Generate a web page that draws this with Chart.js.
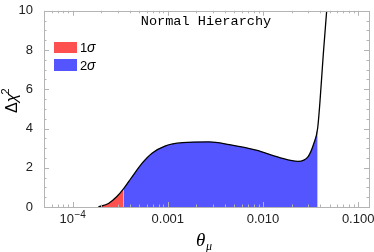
<!DOCTYPE html>
<html>
<head>
<meta charset="utf-8">
<script src="https://cdn.jsdelivr.net/npm/chart.js@4.4.0/dist/chart.umd.min.js"></script>
<style>
html,body{margin:0;padding:0;background:#fff;}
</style>
</head>
<body>
<canvas id="grafico" width="374" height="252"></canvas>
<script>
// valores
const thetaMu = [1.86e-4, 2.38e-4, 2.9e-4, 3.42e-4, 4.19e-4, 5.35e-4, 6.82e-4, 9.46e-4, 1.42e-3, 2.72e-3,
  4.43e-3, 8.47e-3, 0.015, 0.0233, 0.0298, 0.034, 0.0375, 0.0396, 0.043, 0.0467];
const deltaChi2 = [0, 0.18, 0.52, 0.92, 1.52, 2.22, 2.74, 3.12, 3.28, 3.32,
  3.18, 2.9, 2.52, 2.33, 2.57, 3.2, 4.0, 5.3, 7.77, 10];
const limite1s = 3.42e-4;
const limite2s = 0.0375;
const xTicks = [1e-4, 1e-3, 1e-2, 1e-1];
const xTickLabels = ['10', '0.001', '0.010', '0.100'];
const xTickExp = ['−4', '', '', ''];
const yTicks = [0, 2, 4, 6, 8, 10];

const puntos = thetaMu.map((x, i) => ({ x: x, y: deltaChi2[i] }));
const rojo = puntos.filter(p => p.x <= limite1s);
const azul = puntos.filter(p => p.x >= limite1s && p.x <= limite2s);

const gris = '#b4b4b4';

// marco, ticks hacia dentro, titulo y leyenda
const marco = {
  id: 'marco',
  afterDraw(chart) {
    const ctx = chart.ctx;
    const a = chart.chartArea;
    const sx = chart.scales.x, sy = chart.scales.y;
    ctx.save();
    ctx.strokeStyle = gris;
    ctx.lineWidth = 1;
    ctx.strokeRect(Math.round(a.left) + 0.5, Math.round(a.top) + 0.5,
      Math.round(a.right - a.left), Math.round(a.bottom - a.top));
    ctx.beginPath();
    // ticks x (log)
    for (let d = -5; d <= -1; d++) {
      for (let m = 1; m <= 9; m++) {
        const v = m * Math.pow(10, d);
        if (v < sx.min || v > sx.max) continue;
        const px = Math.round(sx.getPixelForValue(v)) + 0.5;
        const len = m === 1 ? 5 : 2.5;
        ctx.moveTo(px, a.bottom); ctx.lineTo(px, a.bottom - len);
        ctx.moveTo(px, a.top); ctx.lineTo(px, a.top + len);
      }
    }
    // ticks y
    for (let v = 0; v <= 10; v += 0.5) {
      const py = Math.round(sy.getPixelForValue(v)) + 0.5;
      const len = v % 2 === 0 ? 5 : 2.5;
      ctx.moveTo(a.left, py); ctx.lineTo(a.left + len, py);
      ctx.moveTo(a.right, py); ctx.lineTo(a.right - len, py);
    }
    ctx.stroke();

    // etiquetas eje x
    ctx.fillStyle = '#222';
    ctx.textBaseline = 'alphabetic';
    xTicks.forEach((v, i) => {
      const px = sx.getPixelForValue(v);
      ctx.font = '13px "Liberation Sans"';
      const w1 = ctx.measureText(xTickLabels[i]).width;
      ctx.font = '10px "Liberation Sans"';
      const w2 = xTickExp[i] ? ctx.measureText(xTickExp[i]).width + 0.5 : 0;
      const x0 = px - (w1 + w2) / 2;
      ctx.textAlign = 'left';
      ctx.font = '13px "Liberation Sans"';
      ctx.fillText(xTickLabels[i], x0, 223);
      if (w2) {
        ctx.font = '10px "Liberation Sans"';
        ctx.fillText(xTickExp[i], x0 + w1 + 0.5, 218);
      }
    });

    // titulo
    ctx.fillStyle = '#000';
    ctx.font = '13.6px "Liberation Mono"';
    ctx.textAlign = 'center';
    ctx.fillText('Normal Hierarchy', 206, 25);

    // leyenda
    ctx.fillStyle = '#ff5050';
    ctx.fillRect(54, 42, 23, 11);
    ctx.fillStyle = '#5555ff';
    ctx.fillRect(54, 59, 23, 12);
    ctx.fillStyle = '#000';
    ctx.textAlign = 'left';
    ctx.font = '13px "Liberation Sans"';
    ctx.fillText('1', 80, 52);
    ctx.fillText('2', 80, 70);
    ctx.font = 'italic 14px "Liberation Sans"';
    ctx.fillText('σ', 87, 52);
    ctx.fillText('σ', 87, 70);

    // titulo eje x
    ctx.font = 'italic 19px "Liberation Serif"';
    ctx.fillText('θ', 196, 246);
    ctx.font = 'italic 12px "Liberation Serif"';
    ctx.fillText('μ', 206, 250);

    // titulo eje y
    ctx.translate(17, 113);
    ctx.rotate(-Math.PI / 2);
    ctx.textAlign = 'left';
    ctx.font = '16px "Liberation Sans"';
    ctx.fillText('Δ', 0, 0);
    let w = ctx.measureText('Δ').width;
    ctx.font = 'italic 16px "Liberation Sans"';
    ctx.fillText('χ', w, 0);
    w += ctx.measureText('χ').width;
    ctx.font = '11px "Liberation Sans"';
    ctx.fillText('2', w - 1, -8);
    ctx.restore();
  }
};

new Chart(document.getElementById('grafico'), {
  type: 'line',
  data: {
    datasets: [
      {
        data: puntos,
        borderColor: '#000',
        borderWidth: 1.3,
        pointRadius: 0,
        fill: false,
        cubicInterpolationMode: 'monotone',
        order: 0
      },
      {
        data: rojo,
        borderWidth: 0,
        borderColor: 'rgba(0,0,0,0)',
        backgroundColor: '#ff5050',
        pointRadius: 0,
        fill: 'origin',
        cubicInterpolationMode: 'monotone',
        order: 1
      },
      {
        data: azul,
        borderWidth: 0,
        borderColor: 'rgba(0,0,0,0)',
        backgroundColor: '#5555ff',
        pointRadius: 0,
        fill: 'origin',
        cubicInterpolationMode: 'monotone',
        order: 2
      }
    ]
  },
  options: {
    responsive: false,
    animation: false,
    devicePixelRatio: 1,
    layout: { padding: { top: 5, right: 5, left: 0, bottom: 0 } },
    plugins: { legend: { display: false }, tooltip: { enabled: false } },
    scales: {
      x: {
        type: 'logarithmic',
        min: 5e-5,
        max: 0.13,
        afterBuildTicks: s => { s.ticks = xTicks.map(v => ({ value: v })); },
        afterFit: s => { s.height = 45; },
        grid: { display: false },
        border: { display: false },
        ticks: { display: false }
      },
      y: {
        min: 0,
        max: 10,
        afterBuildTicks: s => { s.ticks = yTicks.map(v => ({ value: v })); },
        afterFit: s => { s.width = 44; },
        grid: { display: false },
        border: { display: false },
        ticks: {
          padding: 3,
          color: '#222',
          font: { family: 'Liberation Sans', size: 13 }
        }
      }
    }
  },
  plugins: [marco]
});
</script>
</body>
</html>
